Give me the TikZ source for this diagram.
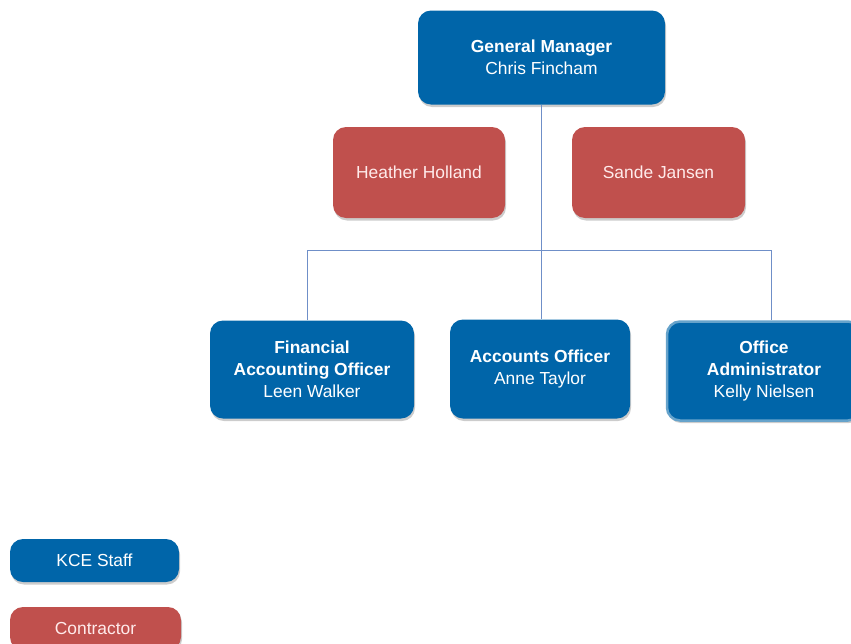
\documentclass[tikz,border=0pt]{standalone}
\usepackage{fontspec}
\setmainfont{Liberation Sans}
\usetikzlibrary{positioning, shadows}
\definecolor{kceblue}{HTML}{0065A9}
\definecolor{kcered}{HTML}{C0504D}
\definecolor{linkblue}{HTML}{6F8FC8}

\begin{document}
\begin{tikzpicture}[x=1pt, y=-1pt, semithick,
    card/.style={rounded corners=13pt, text=white, align=center, font=\fontsize{17.4}{21.8}\selectfont,
      drop shadow={shadow xshift=1pt, shadow yshift=-2.5pt, opacity=0.4}},
    staff/.style={card, fill=kceblue},
    contractor/.style={card, fill=kcered, text=white!92!red},
    link/.style={draw=linkblue, line width=0.8pt}]
      \useasboundingbox (0,0) rectangle (851,643);
      \node[staff, minimum width=247pt, minimum height=94pt] (gm) at (541.5,57.5) {\textbf{General Manager}\\Chris Fincham};
      \node[contractor, minimum width=172pt, minimum height=91pt] (hh) at (419,172.5) {Heather Holland};
      \node[contractor, minimum width=173pt, minimum height=91pt] (sj) at (658.5,172.5) {Sande Jansen};
      \node[staff, minimum width=204pt, minimum height=98pt] (fao) at (312,369.5) {\textbf{Financial}\\\textbf{Accounting Officer}\\Leen Walker};
      \node[staff, minimum width=180pt, minimum height=99pt] (ao) at (540,369) {\textbf{Accounts Officer}\\Anne Taylor};
      \node[staff, draw=kceblue!60!white, line width=2.5pt, minimum width=194pt, minimum height=99pt] (oa) at (764,371) {\textbf{Office}\\\textbf{Administrator}\\Kelly Nielsen};
      \node[staff, minimum width=169pt, minimum height=43pt] (kce) at (94.5,560.5) {KCE Staff};
      \node[contractor, minimum width=171pt, minimum height=43pt] (con) at (95.5,628.5) {Contractor};
      \coordinate (bus) at (541,250.5);
      \path[link] (gm.south -| bus) -- (ao.north -| bus);
      \path[link] ([xshift=-5pt]fao.north) |- (bus) -| ([xshift=7pt]oa.north);
    \end{tikzpicture}
\end{document}
